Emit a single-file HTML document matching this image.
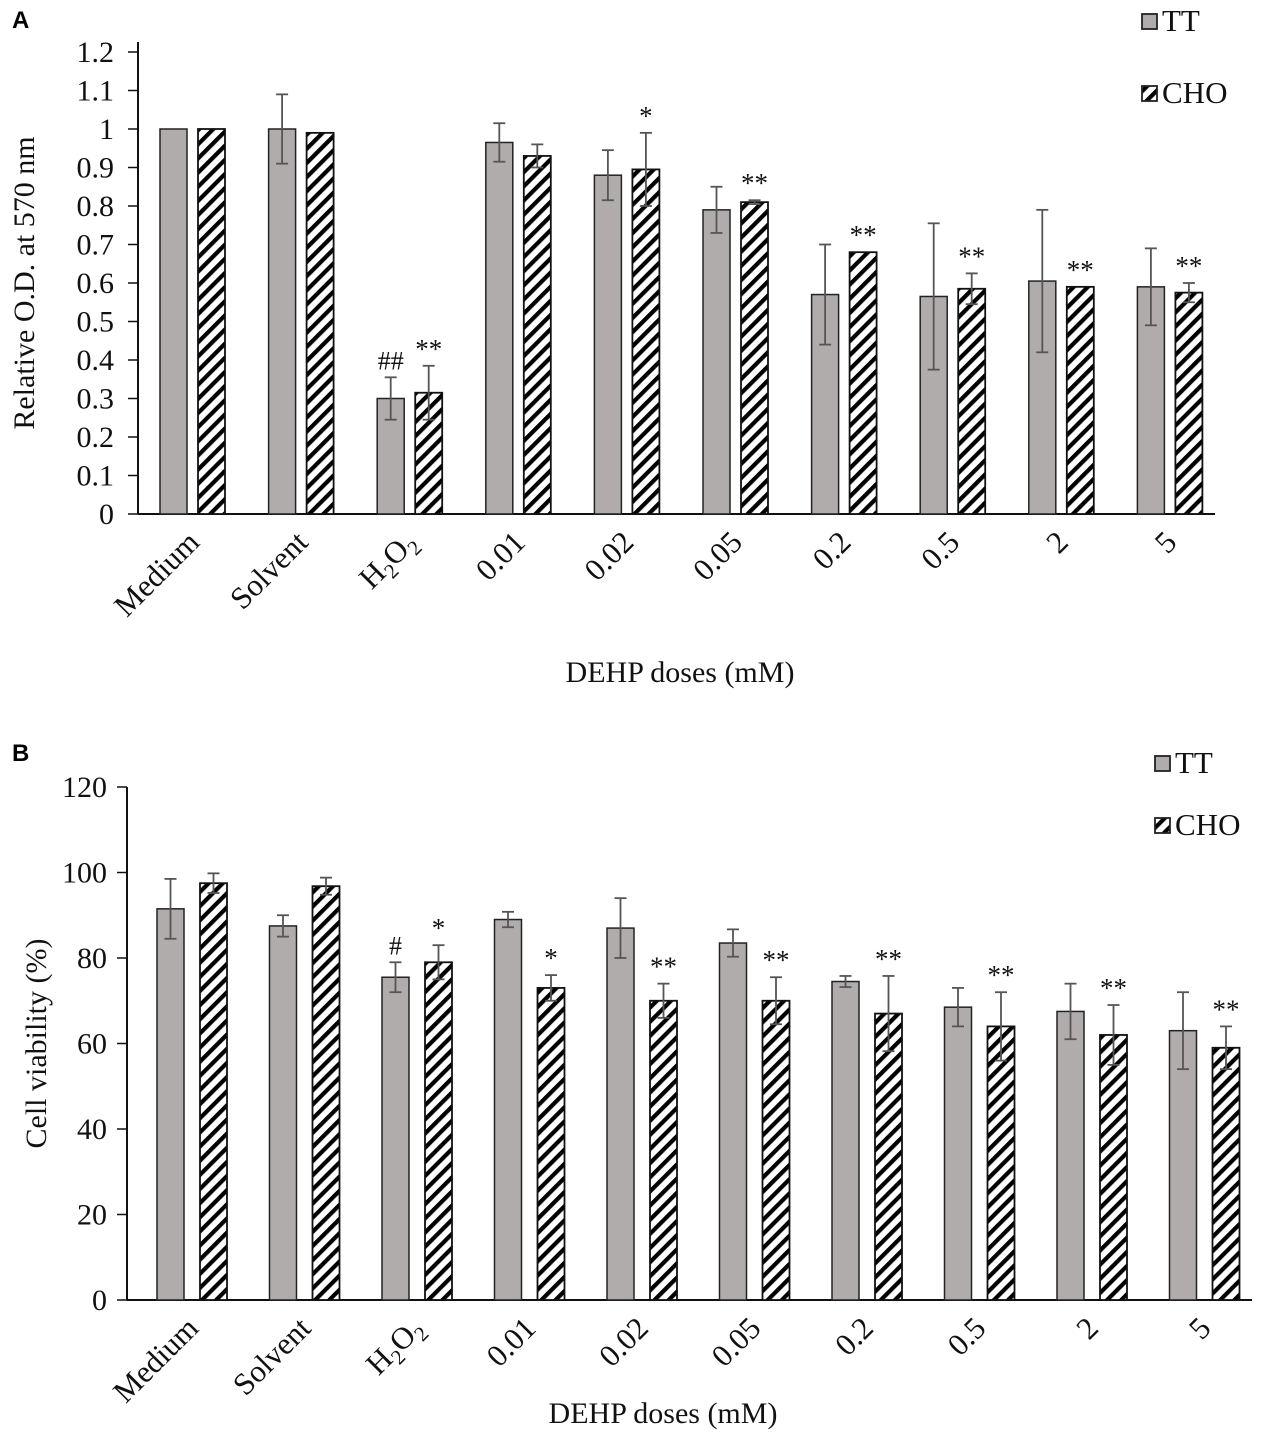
<!DOCTYPE html>
<html><head><meta charset="utf-8"><style>
html,body{margin:0;padding:0;background:#fff;}
svg{display:block;font-family:"Liberation Serif",serif;}
</style></head><body>
<svg id="chart" width="1264" height="1434" xmlns="http://www.w3.org/2000/svg">
<defs>
<pattern id="hatch" patternUnits="userSpaceOnUse" width="10" height="10" patternTransform="rotate(-45)">
<rect width="10" height="10" fill="#fff"/>
<rect x="0" y="0" width="10" height="4.2" fill="#000"/>
</pattern>
</defs>
<text x="12" y="28" font-family="Liberation Sans,sans-serif" font-weight="bold" font-size="24">A</text>
<text x="12" y="761" font-family="Liberation Sans,sans-serif" font-weight="bold" font-size="24">B</text>
</svg>
<script>
const categories = ["Medium","Solvent","H2O2","0.01","0.02","0.05","0.2","0.5","2","5"];
const aTT = [1, 1, 0.30, 0.965, 0.88, 0.79, 0.57, 0.565, 0.605, 0.59];
const aTTErr = [0, 0.09, 0.055, 0.05, 0.065, 0.06, 0.13, 0.19, 0.185, 0.10];
const aCHO = [1, 0.99, 0.315, 0.93, 0.895, 0.81, 0.68, 0.585, 0.59, 0.575];
const aCHOErr = [0, 0, 0.07, 0.03, 0.095, 0.005, 0, 0.04, 0, 0.025];
const aTTSig = ["","","##","","","","","","",""];
const aCHOSig = ["","","**","","*","**","**","**","**","**"];
const aTicks = ["0","0.1","0.2","0.3","0.4","0.5","0.6","0.7","0.8","0.9","1","1.1","1.2"];
const bTT = [91.5, 87.5, 75.5, 89, 87, 83.5, 74.5, 68.5, 67.5, 63];
const bTTErr = [7, 2.5, 3.5, 1.8, 7, 3.2, 1.3, 4.5, 6.5, 9];
const bCHO = [97.5, 96.8, 79, 73, 70, 70, 67, 64, 62, 59];
const bCHOErr = [2.3, 2, 4, 3, 4, 5.5, 8.8, 8, 7, 5];
const bTTSig = ["","","#","","","","","","",""];
const bCHOSig = ["","","*","*","**","**","**","**","**","**"];
const bTicks = ["0","20","40","60","80","100","120"];

const NS="http://www.w3.org/2000/svg";
const svg=document.getElementById('chart');
function mk(tag,attrs,parent){const e=document.createElementNS(NS,tag);for(const k in attrs)e.setAttribute(k,attrs[k]);(parent||svg).appendChild(e);return e;}

function panel(o){
  const g=mk('g',{});
  
  
  const y=v=>o.y0-(v/o.ymax)*(o.y0-o.ytop);
  const gx=i=>o.x0+i*o.step;
  const ya=mk('line',{x1:o.ax,y1:o.axTop,x2:o.ax,y2:o.y0,stroke:'#111','stroke-width':2},g);
  
  
  const xa=mk('line',{x1:o.ax,y1:o.y0,x2:o.axRight,y2:o.y0,stroke:'#111','stroke-width':2},g);
  
  
  o.ticks.forEach(t=>{
    const v=parseFloat(t),yy=y(v);
    mk('line',{x1:o.ax-10,y1:yy,x2:o.ax,y2:yy,stroke:'#111','stroke-width':1.5},g);
    const tx=mk('text',{x:o.ax-o.labOff,y:yy+10,'text-anchor':'end','font-size':30,fill:'#111'},g);
    tx.textContent=t;
    
    
  });
  o.tt.forEach((v,i)=>{
    const x1=gx(i), x2=gx(i)+o.off;
    const b1=mk('rect',{x:x1,y:y(v),width:o.bw,height:o.y0-y(v),fill:'#b1acac',stroke:'#222','stroke-width':1.5},g);
    
    
    const c=o.cho[i];
    const b2=mk('rect',{x:x2,y:y(c),width:o.bw,height:o.y0-y(c),fill:'url(#hatch)',stroke:'#111','stroke-width':1.8},g);
    
    
    [[x1,v,o.ttErr[i],o.ttSig[i]],[x2,c,o.choErr[i],o.choSig[i]]].forEach(([bx,val,e,s])=>{
      const cx=bx+o.bw/2;
      if(e>0){
        mk('line',{x1:cx,y1:y(val+e),x2:cx,y2:y(val-e),stroke:'#555','stroke-width':1.8},g);
        mk('line',{x1:cx-6,y1:y(val+e),x2:cx+6,y2:y(val+e),stroke:'#555','stroke-width':1.8},g);
        mk('line',{x1:cx-6,y1:y(val-e),x2:cx+6,y2:y(val-e),stroke:'#555','stroke-width':1.8},g);
      }
      if(s){
        const st=mk('text',{x:cx,y:y(val+e)-8,'text-anchor':'middle','font-size':s.includes('#')?26:27,fill:'#111'},g);
        st.textContent=s;
        
        
      }
    });
    const lx=gx(i)+o.bw+o.labDx, ly=o.y0+o.labDy;
    const lt=mk('text',{x:lx,y:ly,'text-anchor':'end','font-size':31,fill:'#111',transform:`rotate(-45 ${lx} ${ly})`},g);
    
    
    if(categories[i]==='H2O2'){
      lt.innerHTML='H<tspan dy="7" font-size="21">2</tspan><tspan dy="-7">O</tspan><tspan dy="7" font-size="21">2</tspan>';
    } else lt.textContent=categories[i];
  });
  const xt=mk('text',{x:o.xtX,y:o.xtY,'text-anchor':'middle','font-size':30,fill:'#111'},g);
  xt.textContent='DEHP doses (mM)';
  
  
  const ytl=mk('text',{x:0,y:0,'text-anchor':'middle','font-size':30,fill:'#111',transform:`translate(${o.ytX} ${(o.ytop+o.y0)/2}) rotate(-90)`},g);
  ytl.textContent=o.ytitle;
  
  
  [['TT','#b1acac',o.legY1],['CHO','url(#hatch)',o.legY2]].forEach(([n,f,ly])=>{
    const r=mk('rect',{x:o.legX,y:ly,width:15,height:15,fill:f,stroke:'#222','stroke-width':1.8},g);
    
    
    const t=mk('text',{x:o.legX+20,y:ly+17,'font-size':31,fill:'#111'},g);
    t.textContent=n;
    
    
  });
}
panel({name:'panel-a-chart',y0:514,ytop:52,ymax:1.2,ax:138,axTop:42,axRight:1215,x0:160,step:108.6,bw:27,off:38,
  tt:aTT,ttErr:aTTErr,cho:aCHO,choErr:aCHOErr,ttSig:aTTSig,choSig:aCHOSig,ticks:aTicks,labOff:24,
  labDx:14,labDy:30,xtX:680,xtY:682,ytX:34,ytitle:'Relative O.D. at 570 nm',legX:1142,legY1:14,legY2:86});
panel({name:'panel-b-chart',y0:1300,ytop:787,ymax:120,ax:127,axTop:787,axRight:1252,x0:157,step:112.5,bw:27,off:43,
  tt:bTT,ttErr:bTTErr,cho:bCHO,choErr:bCHOErr,ttSig:bTTSig,choSig:bCHOSig,ticks:bTicks,labOff:20,
  labDx:16,labDy:30,xtX:663,xtY:1423,ytX:46,ytitle:'Cell viability (%)',legX:1155,legY1:756,legY2:818});
</script>
</body></html>
